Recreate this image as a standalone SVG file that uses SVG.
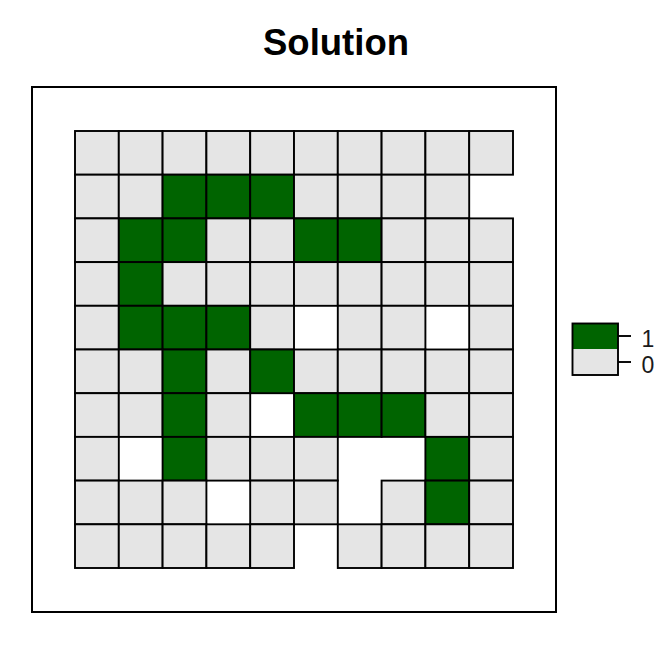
<svg xmlns="http://www.w3.org/2000/svg" width="672" height="672" viewBox="0 0 672 672">
<style>
.g{fill:#e5e5e5;stroke:#000;stroke-width:1.9}
.d{fill:#006400;stroke:#000;stroke-width:1.9}
.t{font-family:"Liberation Sans",Arial,sans-serif}
</style>
<rect width="672" height="672" fill="#fff"/>
<text class="t" x="336" y="55" font-size="36.5" font-weight="bold" text-anchor="middle" fill="#000">Solution</text>
<rect id="panel" x="32" y="87" width="524" height="525" fill="none" stroke="#000" stroke-width="2"/>
<g id="grid">
<g id="row0">
<rect class="g" x="75" y="131" width="43.8" height="43.7"/><rect class="g" x="118.8" y="131" width="43.8" height="43.7"/><rect class="g" x="162.6" y="131" width="43.8" height="43.7"/><rect class="g" x="206.4" y="131" width="43.8" height="43.7"/><rect class="g" x="250.2" y="131" width="43.8" height="43.7"/><rect class="g" x="294" y="131" width="43.8" height="43.7"/><rect class="g" x="337.8" y="131" width="43.8" height="43.7"/><rect class="g" x="381.6" y="131" width="43.8" height="43.7"/><rect class="g" x="425.4" y="131" width="43.8" height="43.7"/><rect class="g" x="469.2" y="131" width="43.8" height="43.7"/>
</g>
<g id="row1">
<rect class="g" x="75" y="174.7" width="43.8" height="43.7"/><rect class="g" x="118.8" y="174.7" width="43.8" height="43.7"/><rect class="d" x="162.6" y="174.7" width="43.8" height="43.7"/><rect class="d" x="206.4" y="174.7" width="43.8" height="43.7"/><rect class="d" x="250.2" y="174.7" width="43.8" height="43.7"/><rect class="g" x="294" y="174.7" width="43.8" height="43.7"/><rect class="g" x="337.8" y="174.7" width="43.8" height="43.7"/><rect class="g" x="381.6" y="174.7" width="43.8" height="43.7"/><rect class="g" x="425.4" y="174.7" width="43.8" height="43.7"/>
</g>
<g id="row2">
<rect class="g" x="75" y="218.4" width="43.8" height="43.7"/><rect class="d" x="118.8" y="218.4" width="43.8" height="43.7"/><rect class="d" x="162.6" y="218.4" width="43.8" height="43.7"/><rect class="g" x="206.4" y="218.4" width="43.8" height="43.7"/><rect class="g" x="250.2" y="218.4" width="43.8" height="43.7"/><rect class="d" x="294" y="218.4" width="43.8" height="43.7"/><rect class="d" x="337.8" y="218.4" width="43.8" height="43.7"/><rect class="g" x="381.6" y="218.4" width="43.8" height="43.7"/><rect class="g" x="425.4" y="218.4" width="43.8" height="43.7"/><rect class="g" x="469.2" y="218.4" width="43.8" height="43.7"/>
</g>
<g id="row3">
<rect class="g" x="75" y="262.1" width="43.8" height="43.7"/><rect class="d" x="118.8" y="262.1" width="43.8" height="43.7"/><rect class="g" x="162.6" y="262.1" width="43.8" height="43.7"/><rect class="g" x="206.4" y="262.1" width="43.8" height="43.7"/><rect class="g" x="250.2" y="262.1" width="43.8" height="43.7"/><rect class="g" x="294" y="262.1" width="43.8" height="43.7"/><rect class="g" x="337.8" y="262.1" width="43.8" height="43.7"/><rect class="g" x="381.6" y="262.1" width="43.8" height="43.7"/><rect class="g" x="425.4" y="262.1" width="43.8" height="43.7"/><rect class="g" x="469.2" y="262.1" width="43.8" height="43.7"/>
</g>
<g id="row4">
<rect class="g" x="75" y="305.8" width="43.8" height="43.7"/><rect class="d" x="118.8" y="305.8" width="43.8" height="43.7"/><rect class="d" x="162.6" y="305.8" width="43.8" height="43.7"/><rect class="d" x="206.4" y="305.8" width="43.8" height="43.7"/><rect class="g" x="250.2" y="305.8" width="43.8" height="43.7"/><rect class="g" x="337.8" y="305.8" width="43.8" height="43.7"/><rect class="g" x="381.6" y="305.8" width="43.8" height="43.7"/><rect class="g" x="469.2" y="305.8" width="43.8" height="43.7"/>
</g>
<g id="row5">
<rect class="g" x="75" y="349.5" width="43.8" height="43.7"/><rect class="g" x="118.8" y="349.5" width="43.8" height="43.7"/><rect class="d" x="162.6" y="349.5" width="43.8" height="43.7"/><rect class="g" x="206.4" y="349.5" width="43.8" height="43.7"/><rect class="d" x="250.2" y="349.5" width="43.8" height="43.7"/><rect class="g" x="294" y="349.5" width="43.8" height="43.7"/><rect class="g" x="337.8" y="349.5" width="43.8" height="43.7"/><rect class="g" x="381.6" y="349.5" width="43.8" height="43.7"/><rect class="g" x="425.4" y="349.5" width="43.8" height="43.7"/><rect class="g" x="469.2" y="349.5" width="43.8" height="43.7"/>
</g>
<g id="row6">
<rect class="g" x="75" y="393.2" width="43.8" height="43.7"/><rect class="g" x="118.8" y="393.2" width="43.8" height="43.7"/><rect class="d" x="162.6" y="393.2" width="43.8" height="43.7"/><rect class="g" x="206.4" y="393.2" width="43.8" height="43.7"/><rect class="d" x="294" y="393.2" width="43.8" height="43.7"/><rect class="d" x="337.8" y="393.2" width="43.8" height="43.7"/><rect class="d" x="381.6" y="393.2" width="43.8" height="43.7"/><rect class="g" x="425.4" y="393.2" width="43.8" height="43.7"/><rect class="g" x="469.2" y="393.2" width="43.8" height="43.7"/>
</g>
<g id="row7">
<rect class="g" x="75" y="436.9" width="43.8" height="43.7"/><rect class="d" x="162.6" y="436.9" width="43.8" height="43.7"/><rect class="g" x="206.4" y="436.9" width="43.8" height="43.7"/><rect class="g" x="250.2" y="436.9" width="43.8" height="43.7"/><rect class="g" x="294" y="436.9" width="43.8" height="43.7"/><rect class="d" x="425.4" y="436.9" width="43.8" height="43.7"/><rect class="g" x="469.2" y="436.9" width="43.8" height="43.7"/>
</g>
<g id="row8">
<rect class="g" x="75" y="480.6" width="43.8" height="43.7"/><rect class="g" x="118.8" y="480.6" width="43.8" height="43.7"/><rect class="g" x="162.6" y="480.6" width="43.8" height="43.7"/><rect class="g" x="250.2" y="480.6" width="43.8" height="43.7"/><rect class="g" x="294" y="480.6" width="43.8" height="43.7"/><rect class="g" x="381.6" y="480.6" width="43.8" height="43.7"/><rect class="d" x="425.4" y="480.6" width="43.8" height="43.7"/><rect class="g" x="469.2" y="480.6" width="43.8" height="43.7"/>
</g>
<g id="row9">
<rect class="g" x="75" y="524.3" width="43.8" height="43.7"/><rect class="g" x="118.8" y="524.3" width="43.8" height="43.7"/><rect class="g" x="162.6" y="524.3" width="43.8" height="43.7"/><rect class="g" x="206.4" y="524.3" width="43.8" height="43.7"/><rect class="g" x="250.2" y="524.3" width="43.8" height="43.7"/><rect class="g" x="337.8" y="524.3" width="43.8" height="43.7"/><rect class="g" x="381.6" y="524.3" width="43.8" height="43.7"/><rect class="g" x="425.4" y="524.3" width="43.8" height="43.7"/><rect class="g" x="469.2" y="524.3" width="43.8" height="43.7"/>
</g>
</g>
<g id="legend">
<rect x="572.5" y="323.5" width="45.5" height="25.5" fill="#006400"/>
<rect x="572.5" y="349" width="45.5" height="26" fill="#e5e5e5"/>
<rect x="572.5" y="323.5" width="45.5" height="51.5" fill="none" stroke="#000" stroke-width="1.9"/>
<line x1="618" y1="336" x2="631" y2="336" stroke="#000" stroke-width="1.9"/>
<line x1="618" y1="362" x2="631" y2="362" stroke="#000" stroke-width="1.9"/>
<text class="t" x="641.5" y="347" font-size="23" fill="#1a1a1a">1</text>
<text class="t" x="641.5" y="373" font-size="23" fill="#1a1a1a">0</text>
</g>
</svg>
